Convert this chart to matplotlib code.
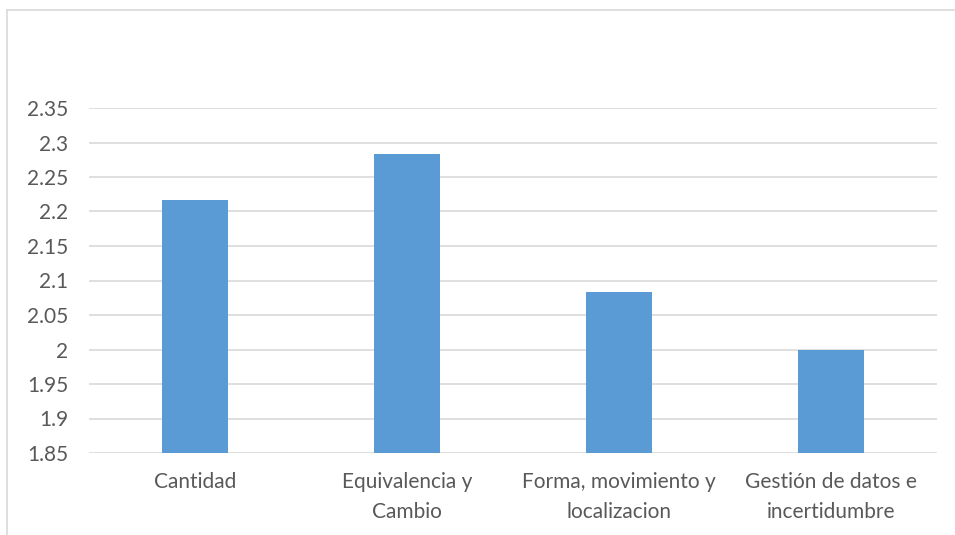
import matplotlib
matplotlib.use("Agg")
import matplotlib.pyplot as plt
from matplotlib.lines import Line2D

categories = ["Cantidad", "Equivalencia y\nCambio", "Forma, movimiento y\nlocalizacion", "Gestión de datos e\nincertidumbre"]
values = [2.2167, 2.2833, 2.0833, 2.0]
yticks = [1.85, 1.9, 1.95, 2.0, 2.05, 2.1, 2.15, 2.2, 2.25, 2.3, 2.35]
ytick_labels = ["1.85", "1.9", "1.95", "2", "2.05", "2.1", "2.15", "2.2", "2.25", "2.3", "2.35"]

plt.rcParams['font.family'] = ['Lato', 'DejaVu Sans']
W, H = 955, 535
fig = plt.figure(figsize=(W/100, H/100), dpi=100)
ax = fig.add_axes([89/W, 1-453/H, (937-89)/W, (453-108)/H])

x = range(len(categories))
ax.bar(x, values, width=0.31, color="#5B9BD5", zorder=3)
ax.set_xlim(-0.5, len(categories)-0.5)
ax.set_ylim(1.85, 2.35)
ax.set_yticks(yticks)
ax.set_yticklabels(ytick_labels)
ax.set_xticks(list(x))
ax.set_xticklabels(categories, linespacing=1.6)
ax.grid(axis='y', color="#D9D9D9", linewidth=1.2, zorder=0)
for s in ax.spines.values():
    s.set_visible(False)
ax.tick_params(axis='both', length=0, labelsize=15, colors="#595959")
ax.tick_params(axis='x', pad=14)
ax.tick_params(axis='y', pad=15)

# outer chart border (left and top visible)
fig.add_artist(Line2D([7/W, 7/W], [0, 1-10/H], color="#D9D9D9", linewidth=1.2))
fig.add_artist(Line2D([7/W, 1], [1-10/H, 1-10/H], color="#D9D9D9", linewidth=1.2))

fig.savefig("out.png", dpi=100, facecolor="white")
